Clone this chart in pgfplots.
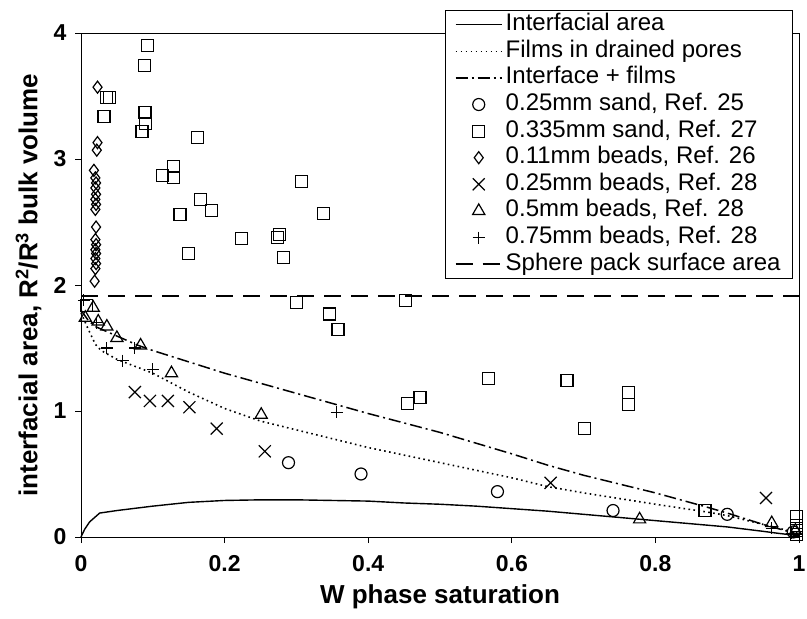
\documentclass[border=0pt]{standalone}
\usepackage{pgfplots}
\pgfplotsset{compat=1.18}
\usepackage{fontspec}
\setmainfont{Liberation Sans}
\begin{document}
\begin{tikzpicture}
\begin{axis}[
  scale only axis, width=718pt, height=504pt,
  xmin=0, xmax=1, ymin=0, ymax=4,
  clip=false,
  xtick={0,0.2,0.4,0.6,0.8,1}, xticklabels={0,0.2,0.4,0.6,0.8,1},
  ytick={0,1,2,3,4}, yticklabels={0,1,2,3,4},
  tick pos=left, tick align=outside, major tick length=6pt,
  tick style={black, line width=0.8pt},
  axis line style={line width=0.8pt},
  ticklabel style={font=\fontsize{23}{23}\selectfont\bfseries},
  xticklabel style={yshift=-9pt},
  yticklabel style={xshift=-5pt},
  xlabel={W phase saturation},
  ylabel={interfacial area, R\textsuperscript{2}/R\textsuperscript{3} bulk volume},
  label style={font=\fontsize{26}{26}\selectfont\bfseries},
  xlabel style={at={(axis description cs:0.5,-0.118)}, anchor=center},
  ylabel style={at={(axis description cs:-0.073,0.5)}, anchor=center},
  legend cell align=left,
  legend style={at={(0.9916,1.0456)}, anchor=north east, draw=black, line width=0.8pt, fill=white,
    font=\fontsize{24}{24}\selectfont, row sep=0pt, inner xsep=9pt, inner ysep=1pt,
    nodes={inner ysep=2.3pt, inner xsep=3pt, text height=17pt, text depth=5pt}},
  legend image code/.code={\draw[mark repeat=2,mark phase=2,#1] plot coordinates {(0pt,0pt) (23pt,0pt) (46pt,0pt)};},
  every axis plot/.append style={black},
  mark options={solid, line width=1.2pt, black},
]
% Interfacial area
\addplot[line width=1.4pt] coordinates {
(0,0) (0.005,0.06) (0.012,0.12) (0.026,0.19) (0.05,0.21) (0.1,0.245) (0.15,0.275) (0.2,0.29) (0.25,0.295) (0.3,0.295) (0.35,0.29) (0.4,0.285) (0.45,0.27) (0.5,0.26) (0.55,0.245) (0.6,0.225) (0.65,0.205) (0.7,0.18) (0.75,0.155) (0.8,0.13) (0.85,0.105) (0.9,0.08) (0.95,0.045) (0.97,0.03) (1,0.01)};
\addlegendentry{Interfacial area}
% Films in drained pores
\addplot[line width=1.6pt, dash pattern=on 1.6pt off 3.4pt] coordinates {
(0,1.78) (0.01,1.65) (0.02,1.53) (0.028,1.48) (0.05,1.41) (0.1,1.3) (0.15,1.15) (0.2,1.02) (0.25,0.92) (0.3,0.85) (0.4,0.71) (0.5,0.59) (0.6,0.47) (0.65,0.4) (0.7,0.35) (0.8,0.26) (0.87,0.2) (0.9,0.17) (0.95,0.1) (1,0.03)};
\addlegendentry{Films in drained pores}
% Interface + films
\addplot[line width=1.5pt, dash pattern=on 12pt off 4pt on 2pt off 4pt] coordinates {
(0,1.8) (0.01,1.72) (0.02,1.67) (0.04,1.62) (0.06,1.57) (0.08,1.52) (0.1,1.48) (0.15,1.39) (0.2,1.3) (0.25,1.22) (0.3,1.14) (0.4,0.98) (0.5,0.83) (0.6,0.66) (0.65,0.57) (0.7,0.49) (0.8,0.35) (0.87,0.24) (0.9,0.19) (0.95,0.1) (1,0.02)};
\addlegendentry{Interface + films}
% 0.25mm sand
\addplot[only marks, mark=o, mark size=6pt] coordinates {
(0.289,0.59) (0.39,0.5) (0.58,0.36) (0.741,0.21) (0.9,0.18) (0.992,0.04)};
\addlegendentry{0.25mm sand, Ref. 25}
% 0.335mm sand
\addplot[only marks, mark=square, mark size=6pt] coordinates {
(0.008,1.84) (0.032,3.34) (0.036,3.49) (0.04,3.49) (0.085,3.22) (0.088,3.74) (0.089,3.37) (0.09,3.28) (0.093,3.9) (0.113,2.87) (0.129,2.94) (0.129,2.85) (0.138,2.56) (0.15,2.25) (0.162,3.17) (0.166,2.68) (0.182,2.59) (0.224,2.37) (0.274,2.38) (0.276,2.40) (0.282,2.22) (0.3,1.86) (0.307,2.82) (0.338,2.57) (0.346,1.77) (0.358,1.65) (0.452,1.88) (0.455,1.06) (0.472,1.11) (0.567,1.26) (0.677,1.24) (0.701,0.86) (0.762,1.15) (0.762,1.05) (0.869,0.21) (0.997,0.16) (0.997,0.09) (0.997,0.05) (0.997,0.02)};
\addlegendentry{0.335mm sand, Ref. 27}
% 0.11mm beads
\addplot[only marks, mark=diamond, mark size=6pt] coordinates {
(0.023,3.57) (0.023,3.13) (0.022,3.07) (0.018,2.91) (0.02,2.85) (0.021,2.81) (0.02,2.77) (0.021,2.72) (0.02,2.68) (0.021,2.64) (0.02,2.60) (0.021,2.46) (0.02,2.36) (0.021,2.32) (0.02,2.28) (0.021,2.25) (0.02,2.21) (0.021,2.17) (0.02,2.13) (0.019,2.03)};
\addlegendentry{0.11mm beads, Ref. 26}
% 0.25mm beads
\addplot[only marks, mark=x, mark size=8.5pt] coordinates {
(0.075,1.15) (0.096,1.08) (0.121,1.08) (0.151,1.03) (0.189,0.86) (0.256,0.68) (0.654,0.43) (0.954,0.31)};
\addlegendentry{0.25mm beads, Ref. 28}
% 0.5mm beads
\addplot[only marks, mark=triangle, mark size=7pt] coordinates {
(0.006,1.74) (0.017,1.82) (0.024,1.71) (0.036,1.67) (0.05,1.58) (0.083,1.52) (0.126,1.3) (0.251,0.97) (0.778,0.14) (0.962,0.11) (0.995,0.05)};
\addlegendentry{0.5mm beads, Ref. 28}
% 0.75mm beads
\addplot[only marks, mark=+, mark size=6pt] coordinates {
(0.004,1.88) (0.022,1.70) (0.036,1.5) (0.058,1.40) (0.075,1.5) (0.1,1.33) (0.356,0.99) (0.962,0.07) (0.99,0.03)};
\addlegendentry{0.75mm beads, Ref. 28}
% Sphere pack
\addplot[line width=2pt, dash pattern=on 17pt off 10pt] coordinates {(0,1.91) (1,1.91)};
\addlegendentry{Sphere pack surface area}
\coordinate (bl) at (rel axis cs:0,0);
\coordinate (tr) at (rel axis cs:1,1);
\end{axis}
\pgfresetboundingbox
\path ([shift={(-81pt,-81pt)}]bl) rectangle ([shift={(8pt,33pt)}]tr);
\end{tikzpicture}
\end{document}
